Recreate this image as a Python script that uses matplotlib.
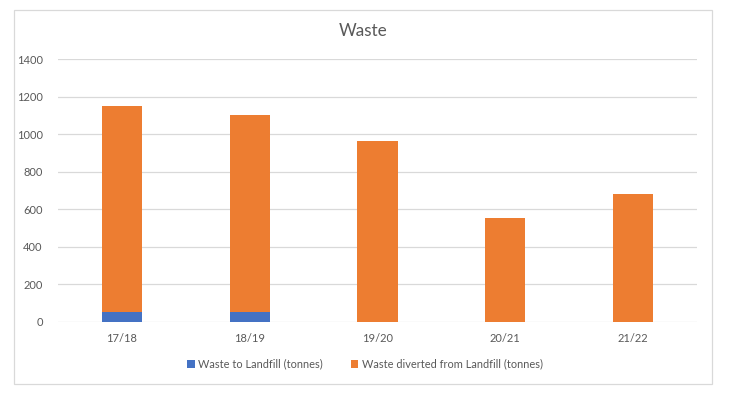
import matplotlib
matplotlib.use('Agg')
import matplotlib.pyplot as plt
from matplotlib.patches import Rectangle

plt.rcParams['font.family'] = ['Lato', 'DejaVu Sans']

years = ['17/18', '18/19', '19/20', '20/21', '21/22']
to_landfill = [55, 55, 0, 0, 0]
diverted = [1095, 1045, 963, 553, 681]
yticks = [0, 200, 400, 600, 800, 1000, 1200, 1400]

BLUE = '#4472C4'
ORANGE = '#ED7D31'
TXT = '#595959'

fig = plt.figure(figsize=(7.29, 3.99), dpi=100)
W, H = 729, 399
ax = fig.add_axes([58 / W, (H - 322) / H, (697 - 58) / W, (322 - 59) / H])

x = range(len(years))
ax.bar(x, to_landfill, width=0.313, color=BLUE, label='Waste to Landfill (tonnes)', zorder=3)
ax.bar(x, diverted, width=0.313, bottom=to_landfill, color=ORANGE,
       label='Waste diverted from Landfill (tonnes)', zorder=3)

ax.set_xlim(-0.5, len(years) - 0.5)
ax.set_ylim(0, 1400)
ax.set_yticks(yticks)
ax.set_xticks(list(x))
ax.set_xticklabels(years)
ax.grid(axis='y', color='#D9D9D9', lw=0.9, zorder=0)
for s in ax.spines.values():
    s.set_visible(False)
ax.tick_params(length=0, colors=TXT, labelsize=8)
ax.tick_params(axis='y', pad=11)
ax.tick_params(axis='x', pad=8)

fig.text(363 / W, 1 - 31 / H, 'Waste', ha='center', va='center', fontsize=12.3, color=TXT)

leg = fig.legend(loc='center', bbox_to_anchor=(365 / W, 1 - 364 / H), ncol=2, frameon=False,
                 fontsize=7.9, handlelength=0.7, handleheight=0.7, handletextpad=0.3,
                 columnspacing=2.5)
for t in leg.get_texts():
    t.set_color(TXT)

fig.patches.append(Rectangle((14 / W, 1 - 384 / H), (712 - 14) / W, (384 - 10) / H,
                             transform=fig.transFigure, fill=False, ec='#D9D9D9', lw=0.9))

fig.savefig('out.png', dpi=100)
